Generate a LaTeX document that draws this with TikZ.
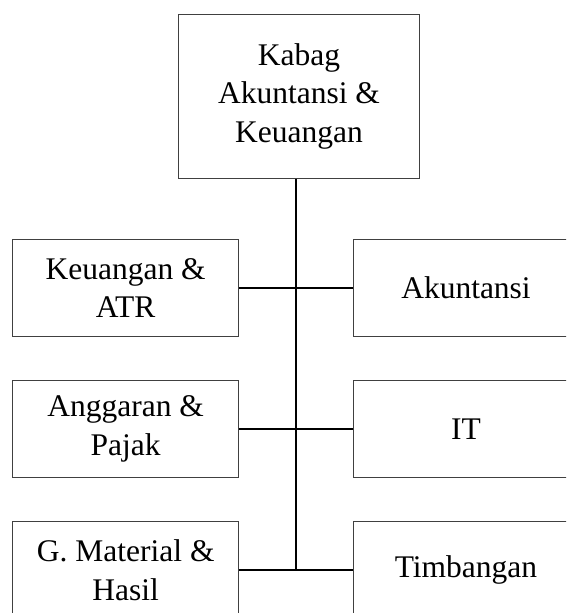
\documentclass[tikz,border=0pt]{standalone}
\usepackage{fontspec}
\setmainfont{Liberation Serif}
\usepackage{tikz}
\usetikzlibrary{positioning, calc}
\newcommand{\drawe}{\draw[line width=2pt]}

\begin{document}
\begin{tikzpicture}[x=1pt, y=-1pt,
  kotak/.style={draw=black!75, line width=1pt, minimum width=226pt, minimum height=97.5pt,
    align=center, inner sep=0pt, font=\fontsize{31.5}{38.3}\selectfont}]
\useasboundingbox (0,0) rectangle (566,613);
\clip (0,0) rectangle (566,613);

% Kotak kepala bagian
\node[kotak, minimum width=241.4pt, minimum height=164pt] (kabag) at (299,96.3) {Kabag\\Akuntansi \&\\Keuangan};

% Kotak kiri
\node[kotak] (keu) at (125.7,287.9) {Keuangan \&\\ATR};
\node[kotak, below=42.6pt of keu] (ang) {Anggaran \&\\Pajak};
\node[kotak, below=42.6pt of ang] (gm) {G. Material \&\\Hasil};

% Kotak kanan
\node[kotak, right=113.3pt of keu] (akt) {Akuntansi};
\node[kotak, right=113.3pt of ang] (it) {IT};
\node[kotak, right=113.3pt of gm] (tim) {Timbangan};

% Garis penghubung
\coordinate (tulang) at ($(gm.east)!.5!(tim.west)$);
\drawe (kabag.south -| tulang) -- (tulang);
\drawe (keu.east) -- (akt.west);
\drawe (ang.east) -- (it.west);
\drawe (gm.east) -- (tim.west);

\end{tikzpicture}
\end{document}
